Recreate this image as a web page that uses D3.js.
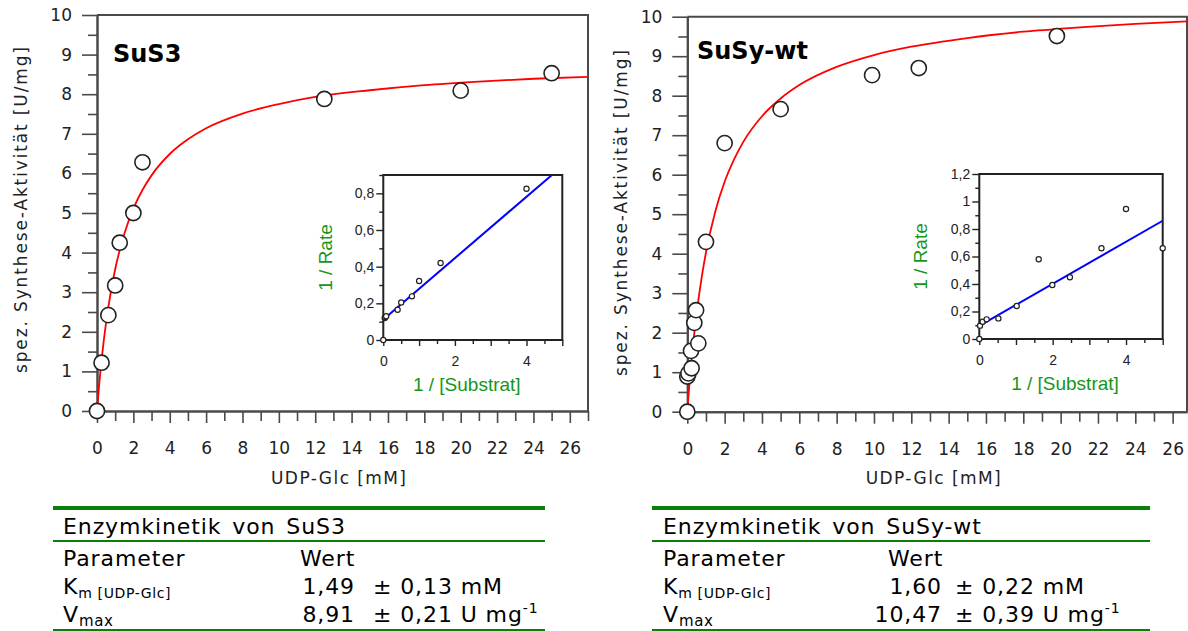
<!DOCTYPE html>
<html><head><meta charset="utf-8">
<script src="https://cdn.jsdelivr.net/npm/d3@7"></script>
<style>body{margin:0;background:#fff}svg{display:block}</style>
</head><body>
<svg id="c" width="1188" height="631"></svg>
<script>
// ---------- DATA ----------
const xTickLabels = [0,2,4,6,8,10,12,14,16,18,20,22,24,26];
const yTickLabels = [0,1,2,3,4,5,6,7,8,9,10];
const insetXTickLabels = [0,2,4];
const sus3InsetYTicks = [0,0.2,0.4,0.6,0.8];
const wtInsetYTicks = [0,0.2,0.4,0.6,0.8,1,1.2];

// SuS3 measured points (UDP-Glc mM, U/mg)
const sus3Substrate = [0,0.25,0.625,1,1.25,2,2.5,12.5,20,25];
const sus3Rate      = [0,1.22,2.42,3.17,4.25,5.0,6.28,7.88,8.09,8.53];
// SuS3 fitted curve
const sus3CurveX = [0,0.1,0.25,0.5,0.75,1,1.5,2,2.5,3,4,5,6,8,10,12,15,18,21,24,27];
const sus3CurveY = [0,0.56,1.28,2.24,2.98,3.58,4.47,5.11,5.58,5.95,6.49,6.86,7.14,7.51,7.75,7.93,8.10,8.23,8.32,8.39,8.44];
// SuS3 Lineweaver-Burk inset
const sus3InvS = [0,0.04,0.05,0.08,0.4,0.5,0.8,1.0,1.6,4.0];
const sus3InvV = [0,0.12,0.125,0.13,0.165,0.205,0.238,0.322,0.42,0.825];
const sus3LineX = [0,4.71];
const sus3LineY = [0.112,0.9];

// SuSy-wt measured points
const wtSubstrate = [0,0,0.06,0.2,0.23,0.375,0.47,0.59,1,2,5,9.9,12.4,19.8];
const wtRate      = [0,0.89,0.97,1.54,1.10,2.25,2.57,1.73,4.3,6.8,7.66,8.52,8.7,9.51];
const wtCurveX = [0,0.1,0.25,0.5,0.75,1,1.5,2,2.5,3,4,5,6,8,10,12,15,18,21,24,26.77];
const wtCurveY = [0,0.62,1.42,2.49,3.34,4.03,5.07,5.82,6.38,6.83,7.48,7.93,8.27,8.73,9.03,9.24,9.46,9.62,9.73,9.82,9.88];
const wtInvS = [0,0.02,0.09,0.2,0.52,1.02,1.62,1.99,2.47,3.33,4.0,5.0];
const wtInvV = [0,0.097,0.126,0.143,0.15,0.24,0.58,0.393,0.449,0.66,0.945,0.66];
const wtLineX = [0,5];
const wtLineY = [0.096,0.86];

// Tables
const sus3Table = {title:"Enzymkinetik von SuS3", km:"1,49", kmErr:"0,13", vmax:"8,91", vmaxErr:"0,21"};
const wtTable   = {title:"Enzymkinetik von SuSy-wt", km:"1,60", kmErr:"0,22", vmax:"10,47", vmaxErr:"0,39"};

// ---------- DRAWING ----------
const svg = d3.select("#c");
const AX = "#4a4a4a", TXT = "#222", GREEN_T = "#169616", GREEN_L = "#0a800a";
const MAINF = "'DejaVu Sans', Verdana, sans-serif";
const INF = "'Liberation Sans', Arial, sans-serif";
const zip = (a,b) => a.map((v,i)=>[v,b[i]]);

function styleAxis(sel, font, size){
  sel.selectAll("text").attr("font-family", font).attr("font-size", size).attr("fill", TXT);
  sel.selectAll("line").attr("stroke", AX).attr("stroke-width", 1.6);
  sel.select(".domain").attr("stroke", AX).attr("stroke-width", 2);
}

function drawPanel(p){
  const g = svg.append("g");
  const x = d3.scaleLinear().domain([0,p.xMax]).range([p.left,p.right]);
  const y = d3.scaleLinear().domain([0,10]).range([p.bottom,p.top]);
  const xMinor = d3.range(1, Math.floor(p.xMax)+1, 2);
  const yMinor = d3.range(0.5, 10, 1);

  g.append("path").attr("d",`M${p.left},${p.top}H${p.right}V${p.bottom}`)
    .attr("fill","none").attr("stroke",AX).attr("stroke-width",2);

  const ym = g.append("g").attr("transform",`translate(${p.left},0)`)
    .call(d3.axisLeft(y).tickValues(yMinor).tickSize(9).tickSizeOuter(0).tickFormat(""));
  styleAxis(ym, MAINF, 17);
  const ya = g.append("g").attr("transform",`translate(${p.left},0)`)
    .call(d3.axisLeft(y).tickValues(yTickLabels).tickSize(15).tickPadding(10).tickSizeOuter(0).tickFormat(d3.format("d")));
  styleAxis(ya, MAINF, 17);

  const xm = g.append("g").attr("transform",`translate(0,${p.bottom})`)
    .call(d3.axisBottom(x).tickValues(xMinor).tickSize(10).tickSizeOuter(0).tickFormat(""));
  styleAxis(xm, MAINF, 17);
  const xa = g.append("g").attr("transform",`translate(0,${p.bottom})`)
    .call(d3.axisBottom(x).tickValues(xTickLabels).tickSize(12).tickPadding(19).tickSizeOuter(0).tickFormat(d3.format("d")));
  styleAxis(xa, MAINF, 17);

  g.append("text").attr("x",(p.left+p.right)/2 - 4).attr("y",484)
    .attr("text-anchor","middle").attr("font-family",MAINF).attr("font-size",17).attr("fill",TXT)
    .attr("textLength",135).attr("lengthAdjust","spacing")
    .text("UDP-Glc [mM]");
  g.append("text").attr("transform",`translate(${p.yTitleX},${p.yTitleY}) rotate(-90)`)
    .attr("text-anchor","middle").attr("font-family",MAINF).attr("font-size",17).attr("fill",TXT)
    .attr("textLength",326).attr("lengthAdjust","spacing")
    .text("spez. Synthese-Aktivität [U/mg]");

  g.append("text").attr("x",p.titleX).attr("y",p.titleY)
    .attr("font-family",MAINF).attr("font-weight","bold").attr("font-size",24).attr("fill","#000")
    .text(p.title);

  g.append("path").datum(zip(p.curveX,p.curveY))
    .attr("d", d3.line().x(d=>x(d[0])).y(d=>y(d[1])).curve(d3.curveMonotoneX))
    .attr("fill","none").attr("stroke","#ff0000").attr("stroke-width",1.8);

  g.selectAll("circle.pt").data(zip(p.sx,p.sy)).join("circle").attr("class","pt")
    .attr("cx",d=>x(d[0])).attr("cy",d=>y(d[1])).attr("r",7.6)
    .attr("fill","#fff").attr("stroke","#222").attr("stroke-width",1.6);

  const ins = p.inset;
  const ig = g.append("g");
  const ix = d3.scaleLinear().domain([0,5]).range([ins.left,ins.right]);
  const iy = d3.scaleLinear().domain([0,ins.yMax]).range([ins.bottom,ins.top]);
  ig.append("rect").attr("x",ins.left).attr("y",ins.top).attr("width",ins.right-ins.left).attr("height",ins.bottom-ins.top)
    .attr("fill","#fff");
  const iyMinor = d3.range(0.1, ins.yMax+0.001, 0.2);
  const iym = ig.append("g").attr("transform",`translate(${ins.left},0)`)
    .call(d3.axisLeft(iy).tickValues(iyMinor).tickSize(4).tickSizeOuter(0).tickFormat(""));
  const iya = ig.append("g").attr("transform",`translate(${ins.left},0)`)
    .call(d3.axisLeft(iy).tickValues(ins.yTicks).tickSize(7).tickPadding(2).tickSizeOuter(0)
      .tickFormat(d=>String(+d.toFixed(1)).replace(".",",")));
  const ixm = ig.append("g").attr("transform",`translate(0,${ins.bottom})`)
    .call(d3.axisBottom(ix).tickValues(d3.range(0.5,5,1)).tickSize(4).tickSizeOuter(0).tickFormat(""));
  const ixa = ig.append("g").attr("transform",`translate(0,${ins.bottom})`)
    .call(d3.axisBottom(ix).tickValues(d3.range(0,6,1)).tickSize(6).tickPadding(10).tickSizeOuter(0)
      .tickFormat(d=> insetXTickLabels.includes(d) ? d3.format("d")(d) : ""));
  [iym,iya,ixm,ixa].forEach(s=>{
    s.selectAll("text").attr("font-family",INF).attr("font-size",14).attr("fill",TXT);
    s.selectAll("line").attr("stroke","#222").attr("stroke-width",1.4);
    s.select(".domain").remove();
  });
  ig.append("rect").attr("x",ins.left).attr("y",ins.top).attr("width",ins.right-ins.left).attr("height",ins.bottom-ins.top)
    .attr("fill","none").attr("stroke","#222").attr("stroke-width",2);
  ig.append("path").datum(zip(p.lineX,p.lineY))
    .attr("d", d3.line().x(d=>ix(d[0])).y(d=>iy(d[1])))
    .attr("stroke","#0000ff").attr("stroke-width",2).attr("fill","none");
  ig.selectAll("circle.ipt").data(zip(p.ix,p.iy)).join("circle").attr("class","ipt")
    .attr("cx",d=>ix(d[0])).attr("cy",d=>iy(d[1])).attr("r",2.6)
    .attr("fill","#fff").attr("stroke","#222").attr("stroke-width",1.2);
  ig.append("text").attr("transform",`translate(${ins.yTitleX},${(ins.top+ins.bottom)/2}) rotate(-90)`)
    .attr("text-anchor","middle").attr("font-family",INF).attr("font-size",19).attr("fill",GREEN_T)
    .text("1 / Rate");
  ig.append("text").attr("x",(ins.left+ins.right)/2 - 6).attr("y",ins.xTitleY)
    .attr("text-anchor","middle").attr("font-family",INF).attr("font-size",19).attr("fill",GREEN_T)
    .text("1 / [Substrat]");
}

drawPanel({left:97,right:588,top:15,bottom:411,xMax:27,title:"SuS3",titleX:113,titleY:62,
  yTitleX:27,yTitleY:210,
  curveX:sus3CurveX,curveY:sus3CurveY,sx:sus3Substrate,sy:sus3Rate,
  ix:sus3InvS,iy:sus3InvV,lineX:sus3LineX,lineY:sus3LineY,
  inset:{left:383.3,right:562.3,top:175,bottom:340,yMax:0.9,yTicks:sus3InsetYTicks,yTitleX:332,xTitleY:391}});
drawPanel({left:687.3,right:1187,top:16.7,bottom:411.7,xMax:26.77,title:"SuSy-wt",titleX:697,titleY:59,
  yTitleX:627,yTitleY:213,
  curveX:wtCurveX,curveY:wtCurveY,sx:wtSubstrate,sy:wtRate,
  ix:wtInvS,iy:wtInvV,lineX:wtLineX,lineY:wtLineY,
  inset:{left:979.3,right:1162.7,top:174,bottom:339,yMax:1.2,yTicks:wtInsetYTicks,yTitleX:927,xTitleY:390}});

function drawTable(t, p){
  const g = svg.append("g").attr("font-family",MAINF).attr("font-size",22).attr("fill","#000")
    .attr("letter-spacing","0.9px");
  g.append("line").attr("x1",p.x0).attr("x2",p.x1).attr("y1",508).attr("y2",508).attr("stroke",GREEN_L).attr("stroke-width",4);
  g.append("line").attr("x1",p.x0).attr("x2",p.x1).attr("y1",541).attr("y2",541).attr("stroke",GREEN_L).attr("stroke-width",2);
  g.append("line").attr("x1",p.x0).attr("x2",p.x1).attr("y1",630).attr("y2",630).attr("stroke",GREEN_L).attr("stroke-width",2);
  g.append("text").attr("x",p.tx).attr("y",534).attr("word-spacing","3px").text(t.title);
  g.append("text").attr("x",p.tx).attr("y",566).text("Parameter");
  g.append("text").attr("x",p.wertX).attr("y",566).text("Wert");
  const k = g.append("text").attr("x",p.tx).attr("y",594);
  k.append("tspan").text("K");
  k.append("tspan").attr("font-size",14).attr("dy",4).attr("letter-spacing","0.6px").text("m [UDP-Glc]");
  const v = g.append("text").attr("x",p.tx).attr("y",622);
  v.append("tspan").text("V");
  v.append("tspan").attr("font-size",15).attr("dy",4).attr("letter-spacing","0.6px").text("max");
  g.append("text").attr("x",p.valR).attr("y",594).attr("text-anchor","end").text(t.km);
  g.append("text").attr("x",p.valR).attr("y",622).attr("text-anchor","end").text(t.vmax);
  g.append("text").attr("x",p.pmX).attr("y",594).text("± " + t.kmErr + " mM");
  const ve = g.append("text").attr("x",p.pmX).attr("y",622);
  ve.append("tspan").text("± " + t.vmaxErr + " U mg");
  ve.append("tspan").attr("font-size",14).attr("dy",-9).text("-1");
}
drawTable(sus3Table,{x0:53,x1:545,tx:63,wertX:300,valR:355,pmX:373});
drawTable(wtTable,{x0:652,x1:1150,tx:663,wertX:888,valR:942,pmX:955});
</script>
</body></html>
